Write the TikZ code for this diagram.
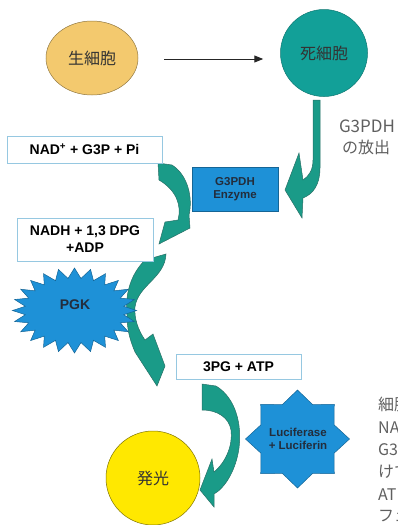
\documentclass[tikz,border=0pt]{standalone}
\usepackage{fontspec}
\setmainfont{Liberation Sans}
\newfontfamily\jp{Noto Sans CJK JP}
\usetikzlibrary{arrows.meta,shapes.geometric,calc}
\definecolor{tealcirc}{RGB}{18,160,152}
\definecolor{tealarrow}{RGB}{26,155,136}
\definecolor{tealedge}{RGB}{40,112,102}
\definecolor{cellyellow}{RGB}{243,201,110}
\definecolor{lightyellow}{RGB}{255,232,0}
\definecolor{enzblue}{RGB}{30,145,215}
\definecolor{boxedge}{RGB}{150,200,225}
\definecolor{darktext}{RGB}{35,45,60}
\definecolor{graytext}{RGB}{95,95,95}
\begin{document}
\begin{tikzpicture}[x=1pt,y=-1pt,
  sbox/.style={draw=boxedge, line width=0.8pt, fill=white, align=center, inner sep=0pt,
    font=\bfseries\fontsize{14}{17}\selectfont, text=black},
  curvearrow/.style={fill=tealarrow, draw=tealedge, line width=0.5pt},
  enz/.style={fill=enzblue, draw=enzblue!70!black, line width=0.5pt},
  enztext/.style={text=darktext, font=\bfseries\fontsize{11.5}{13}\selectfont, align=center, inner sep=0pt},
  jptext/.style={font=\jp\fontsize{16}{20}\selectfont, text=black!80},
  notetext/.style={font=\jp\fontsize{16}{20}\selectfont, text=graytext, inner sep=0pt}]
\useasboundingbox (0,0) rectangle (398,525);

% cells
\node[ellipse, minimum width=92pt, minimum height=74pt, fill=cellyellow, draw=cellyellow!60!black, line width=0.5pt, jptext] (live) at (92,58) {生細胞};
\node[circle, minimum size=87pt, fill=tealcirc, draw=tealcirc!75!black, line width=0.5pt, jptext] (dead) at (324,53) {死細胞};
\coordinate (arrS) at ($(live.east)+(26,1)$);
\coordinate (arrE) at ($(live.east -| dead.west)+(-17,1)$);
\draw[-{Triangle[length=9pt,width=7pt]}, line width=1pt, black!85] (arrS) -- (arrE);

% label
\node[notetext, font=\jp\fontsize{17}{20}\selectfont, anchor=center] (rel1) at (367,126) {G3PDH};
\node[notetext, anchor=center] (rel2) at (366,147) {の放出};

% curved block arrows
\filldraw[curvearrow] (313,100) -- (320,100) -- (320,168)
  .. controls (320,185) and (313,194) .. (303,198) -- (302,218) -- (285,190) -- (299,153)
  -- (303,180) .. controls (309,176) and (313,170) .. (313,160) -- cycle;
\filldraw[curvearrow] (158,163) -- (172,165) .. controls (188,175) and (193,198) .. (189,215)
  -- (190,228) -- (159,244) -- (165,222) -- (178,220)
  .. controls (182,205) and (176,190) .. (159,180) -- cycle;
\filldraw[curvearrow] (145,260) -- (166,254) .. controls (165,278) and (138,285) .. (135,307)
  .. controls (134,318) and (138,330) .. (145,340) -- (153,334) -- (165,366) -- (157,386)
  -- (135,352) .. controls (130,340) and (127,330) .. (127,315)
  .. controls (125,295) and (130,275) .. (145,260) -- cycle;
\filldraw[curvearrow] (202,384) -- (216,386) .. controls (236,398) and (242,425) .. (239,448)
  .. controls (236,470) and (225,488) .. (214,494) -- (214,507) -- (200,490) -- (212,459)
  -- (214,472) .. controls (226,462) and (233,445) .. (231,430)
  .. controls (229,418) and (218,410) .. (202,410) -- cycle;

% boxes
\node[sbox, minimum width=155pt, minimum height=27pt] (nad) at (84.5,149.5) {NAD\textsuperscript{+} + G3P + Pi};
\node[enz, rectangle, minimum width=86pt, minimum height=44pt, enztext] (g3pdh) at (235,189) {G3PDH\\Enzyme};
\node[sbox, minimum width=136pt, minimum height=43pt] (nadh) at (85,239.5) {NADH + 1,3 DPG\\+ADP};
\node[sbox, minimum width=125pt, minimum height=25pt] (pg) at (238.5,366.5) {3PG + ATP};

% PGK starburst
\filldraw[enz] plot[samples at={0,...,47}, variable=\k]
  ({74.5+62*(1-0.2*mod(\k,2))*cos(\k*7.5)}, {310.5+42.5*(1-0.24*mod(\k,2))*sin(\k*7.5)}) -- cycle;
\node[enztext, font=\bfseries\fontsize{14}{16}\selectfont] (pgk) at (75,305) {PGK};

% Luciferase star
\filldraw[enz] plot[samples at={0,...,15}, variable=\k]
  ({297.5+52*(1-0.24*mod(\k,2))*cos(90+\k*22.5)}, {439-49*(1-0.24*mod(\k,2))*sin(90+\k*22.5)}) -- cycle;
\node[enztext] (luc) at (298,439) {Luciferase\\+ Luciferin};

% light
\node[circle, minimum size=94pt, fill=lightyellow, draw=lightyellow!50!black, line width=0.5pt, jptext] (light) at (153,478) {発光};

% side note, cut off by the right edge as in the reference
\begin{scope}
\clip (0,0) rectangle (398,525);
\node[notetext, anchor=base west] (n1) at (378,410) {細胞};
\node[notetext, anchor=base west] (n2) at (378,433) {NAD};
\node[notetext, anchor=base west] (n3) at (378,455) {G3P};
\node[notetext, anchor=base west] (n4) at (378,477) {けて};
\node[notetext, anchor=base west] (n5) at (378,500) {ATP};
\node[notetext, anchor=base west] (n6) at (378,521) {フェ};
\end{scope}
\end{tikzpicture}
\end{document}
